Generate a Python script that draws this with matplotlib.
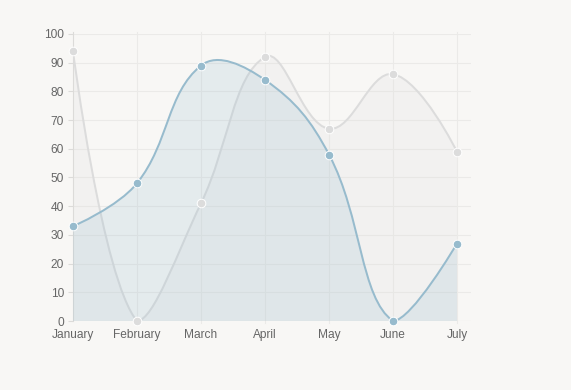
import numpy as np
import matplotlib
matplotlib.use("Agg")
import matplotlib.pyplot as plt
from matplotlib.path import Path
from matplotlib.patches import PathPatch

# DATA
labels = ["January", "February", "March", "April", "May", "June", "July"]
gray_vals = [94, 0, 41, 92, 67, 86, 59]
blue_vals = [33, 48, 89, 84, 58, 0, 27]
y_ticks = list(range(0, 101, 10))

bg = "#f8f7f5"
tension = 0.4
sx, sy = 64.0, 2.87    # pixels per category / per unit, for the spline math


def spline_path(vals, ymin=0, ymax=100):
    # chart.js v1 style bezier, worked out in pixel space
    n = len(vals)
    px = np.arange(n) * sx
    py = np.array(vals, float) * sy
    inner, outer = [], []
    for i in range(n):
        p0 = (px[max(i - 1, 0)], py[max(i - 1, 0)])
        p1 = (px[i], py[i])
        p2 = (px[min(i + 1, n - 1)], py[min(i + 1, n - 1)])
        t = tension if 0 < i < n - 1 else 0
        d01 = np.hypot(p1[0] - p0[0], p1[1] - p0[1])
        d12 = np.hypot(p2[0] - p1[0], p2[1] - p1[1])
        tot = d01 + d12 if d01 + d12 > 0 else 1
        fa, fb = t * d01 / tot, t * d12 / tot
        ix, iy = p1[0] - fa * (p2[0] - p0[0]), p1[1] - fa * (p2[1] - p0[1])
        ox, oy = p1[0] + fb * (p2[0] - p0[0]), p1[1] + fb * (p2[1] - p0[1])
        iy = min(max(iy, ymin * sy), ymax * sy)
        oy = min(max(oy, ymin * sy), ymax * sy)
        inner.append((ix / sx, iy / sy))
        outer.append((ox / sx, oy / sy))
    verts = [(0, vals[0])]
    codes = [Path.MOVETO]
    for i in range(1, n):
        verts += [outer[i - 1], inner[i], (i, vals[i])]
        codes += [Path.CURVE4] * 3
    return verts, codes


fig = plt.figure(figsize=(5.71, 3.90), dpi=100)
fig.patch.set_facecolor(bg)
ax = fig.add_axes([73 / 571, 69 / 390, 398 / 571, 287 / 390])
ax.set_facecolor(bg)
ax.set_xlim(0, 398 / sx)
ax.set_ylim(0, 100)

# grid
for y in y_ticks[1:]:
    ax.axhline(y, color="#ebeae8", lw=0.8, zorder=0)
for i in range(1, len(labels)):
    ax.plot([i, i], [-0.8, 100.8], color="#ebeae8", lw=0.8, zorder=0, clip_on=False)
ax.axhline(0, color="#dcdbd9", lw=0.8, zorder=0)
ax.plot([0, 0], [0, 100.8], color="#dcdbd9", lw=0.8, zorder=0, clip_on=False)

for vals, col, fill in [(gray_vals, "#dcdcdc", (220/255, 220/255, 220/255, 0.2)),
                        (blue_vals, "#97bbcd", (151/255, 187/255, 205/255, 0.2))]:
    verts, codes = spline_path(vals)
    n = len(vals)
    fverts = verts + [(n - 1, 0), (0, 0), (0, 0)]
    fcodes = codes + [Path.LINETO, Path.LINETO, Path.CLOSEPOLY]
    ax.add_patch(PathPatch(Path(fverts, fcodes), facecolor=fill, edgecolor="none", zorder=2))
    ax.add_patch(PathPatch(Path(verts, codes), facecolor="none", edgecolor=col, lw=1.44, zorder=2))
    ax.plot(range(n), vals, "o", ms=6.2, mfc=col, mec="white", mew=0.7, zorder=3, clip_on=False)

for s in ax.spines.values():
    s.set_visible(False)

ax.set_yticks(y_ticks)
ax.set_xticks(range(len(labels)))
ax.set_xticklabels(labels)
ax.tick_params(axis="y", length=3.6, width=0.8, color="#dcdbd9", pad=3,
               labelsize=8.6, labelcolor="#666666")
ax.tick_params(axis="x", length=0, pad=5.5, labelsize=8.6, labelcolor="#666666")
for t in ax.get_xticklabels() + ax.get_yticklabels():
    t.set_fontfamily("Liberation Sans")

fig.savefig("out.png", dpi=100, facecolor=bg)
